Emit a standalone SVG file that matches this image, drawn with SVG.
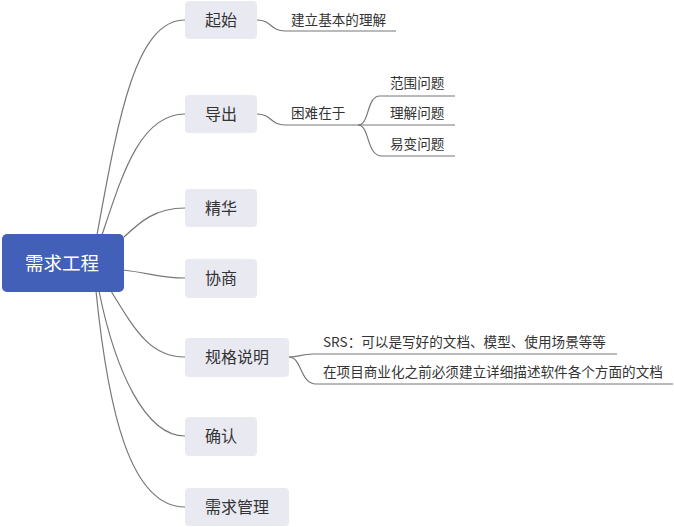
<svg xmlns="http://www.w3.org/2000/svg" width="674" height="527" viewBox="0 0 674 527">
<style>
.node rect{fill:#E9E9F2;}
.node text{font-family:"Noto Sans CJK SC","Liberation Sans",sans-serif;font-size:16px;fill:#333;text-anchor:middle;}
.leaf text{font-family:"Noto Sans CJK SC","Liberation Sans",sans-serif;font-size:13.6px;fill:#333;}
.conn path{fill:none;stroke:#777;stroke-width:1.2;}
</style>
<rect width="674" height="527" fill="#fff"/>
<g id="connectors" class="conn">
<path d="M97 235 C118 120 135 20 185 20"/>
<path d="M102 235 C122 175 140 114 185 114"/>
<path d="M124 237 C140 222 155 208 185 208"/>
<path d="M123 270 C150 273 160 278 185 278"/>
<path d="M111 291 C135 330 150 357 185 357"/>
<path d="M99 291 C115 370 145 436 185 436"/>
<path d="M96 291 C108 410 130 507 185 507"/>
<path d="M257 20 C272 20 270 31 285 31 L396 31"/>
<path d="M257 114 C272 114 270 125 285 125 L358 125"/>
<path d="M358 125 C370 125 366 96 380 96 L455 96"/>
<path d="M358 125 L455 125"/>
<path d="M358 125 C370 125 366 156 382 156 L455 156"/>
<path d="M289 357 C300 357 300 354 313 354 L617 354"/>
<path d="M289 357 C302 357 300 384 316 384 L673 384"/>
</g>
<g id="root">
<rect x="2" y="234" width="122" height="58" rx="5" fill="#4360B9"/>
<text x="62" y="270" font-family="'Noto Sans CJK SC','Liberation Sans',sans-serif" font-size="18.5" fill="#fff" text-anchor="middle">需求工程</text>
</g>
<g id="n-qishi" class="node"><rect x="185" y="1" width="72" height="38" rx="4"/><text x="221" y="25.5">起始</text></g>
<g id="n-daochu" class="node"><rect x="185" y="95" width="72" height="38" rx="4"/><text x="221" y="119.5">导出</text></g>
<g id="n-jinghua" class="node"><rect x="185" y="189" width="72" height="38" rx="4"/><text x="221" y="213.5">精华</text></g>
<g id="n-xieshang" class="node"><rect x="185" y="259" width="72" height="39" rx="4"/><text x="221" y="284">协商</text></g>
<g id="n-guige" class="node"><rect x="185" y="338" width="104" height="39" rx="4"/><text x="237" y="363">规格说明</text></g>
<g id="n-queren" class="node"><rect x="185" y="417" width="72" height="39" rx="4"/><text x="221" y="442">确认</text></g>
<g id="n-guanli" class="node"><rect x="185" y="488" width="104" height="38" rx="4"/><text x="237" y="513">需求管理</text></g>
<g id="l-jianli" class="leaf"><text x="291" y="24.5">建立基本的理解</text></g>
<g id="l-kunnan" class="leaf"><text x="291" y="118">困难在于</text></g>
<g id="l-fanwei" class="leaf"><text x="390" y="88">范围问题</text></g>
<g id="l-lijie" class="leaf"><text x="390" y="118">理解问题</text></g>
<g id="l-yibian" class="leaf"><text x="390" y="149">易变问题</text></g>
<g id="l-srs" class="leaf"><text x="323" y="347">SRS：可以是写好的文档、模型、使用场景等等</text></g>
<g id="l-wendang" class="leaf"><text x="323" y="377">在项目商业化之前必须建立详细描述软件各个方面的文档</text></g>
</svg>
